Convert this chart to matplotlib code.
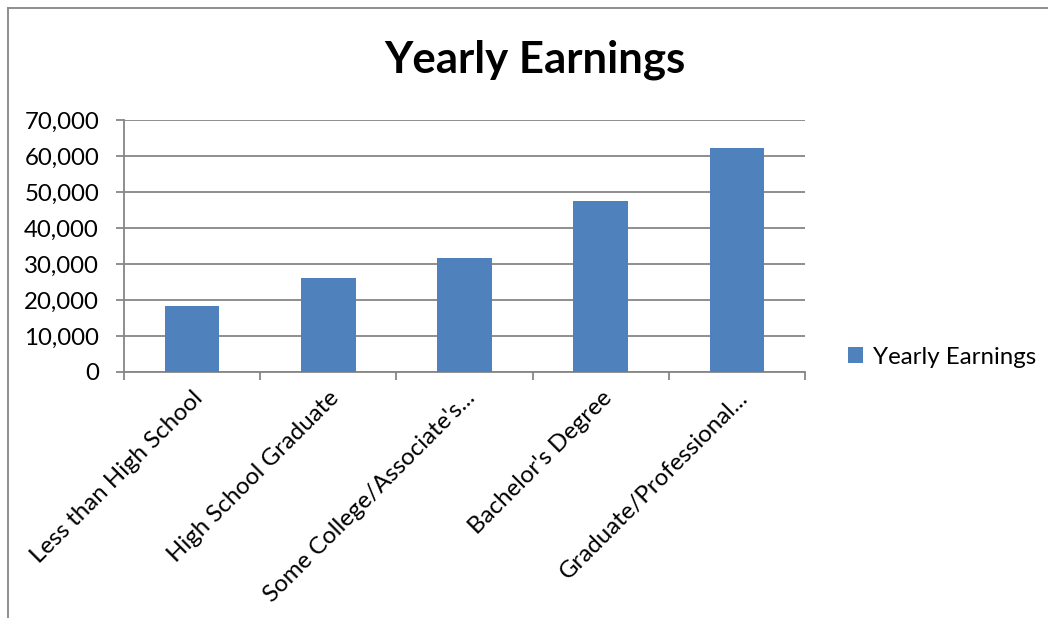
import matplotlib.pyplot as plt
from matplotlib.lines import Line2D
from matplotlib.ticker import FuncFormatter, FixedLocator

categories = [
    "Less than High School",
    "High School Graduate",
    "Some College/Associate's...",
    "Bachelor's Degree",
    "Graduate/Professional...",
]
earnings = [18400, 26000, 31800, 47500, 62300]
series_name = "Yearly Earnings"
y_ticks = [0, 10000, 20000, 30000, 40000, 50000, 60000, 70000]

BAR = "#4F81BD"
GRID = "#868686"
FONT = "Lato"
FS = 17.3

W, H = 1048, 618
fig = plt.figure(figsize=(W / 100, H / 100), dpi=100)
ax = fig.add_axes([124 / W, 1 - 372 / H, (805 - 124) / W, (372 - 120) / H])

x = list(range(len(categories)))
ax.bar(x, earnings, width=0.4, color=BAR, label=series_name, zorder=3)

ax.set_xlim(-0.5, len(categories) - 0.5)
ax.set_ylim(0, 70000)
ax.set_yticks(y_ticks)
ax.yaxis.set_major_formatter(FuncFormatter(lambda v, p: f"{int(v):,}"))
ax.grid(axis="y", color=GRID, linewidth=1.3, zorder=0)

ax.set_xticks(x)
ax.set_xticklabels(categories, rotation=45, ha="right", rotation_mode="anchor",
                   fontsize=FS, family=FONT)
ax.xaxis.set_minor_locator(FixedLocator([i - 0.5 for i in range(len(categories) + 1)]))
ax.tick_params(axis="x", which="major", length=0, pad=11)
ax.tick_params(axis="x", which="minor", length=5.5, width=1.3, color=GRID)
ax.tick_params(axis="y", length=6, width=1.3, color=GRID, pad=12, labelsize=FS)
for lbl in ax.get_yticklabels():
    lbl.set_family(FONT)

for s in ["top", "right"]:
    ax.spines[s].set_visible(False)
for s in ["left", "bottom"]:
    ax.spines[s].set_color(GRID)
    ax.spines[s].set_linewidth(1.3)

fig.text(535 / W, 1 - 60 / H, "Yearly Earnings", ha="center", va="center",
         fontsize=31.5, fontweight="bold", family=FONT)

leg = fig.legend(loc="center left", bbox_to_anchor=(826 / W, 1 - 357 / H),
                 frameon=False, prop={"family": FONT, "size": FS},
                 handlelength=0.65, handleheight=0.65, handletextpad=0.4)

# chart area border (cut off at right and bottom)
fig.add_artist(Line2D([8 / W, 1], [1 - 8 / H, 1 - 8 / H], color=GRID, lw=1.3))
fig.add_artist(Line2D([8 / W, 8 / W], [0, 1 - 8 / H], color=GRID, lw=1.3))

fig.savefig("out.png", dpi=100)
